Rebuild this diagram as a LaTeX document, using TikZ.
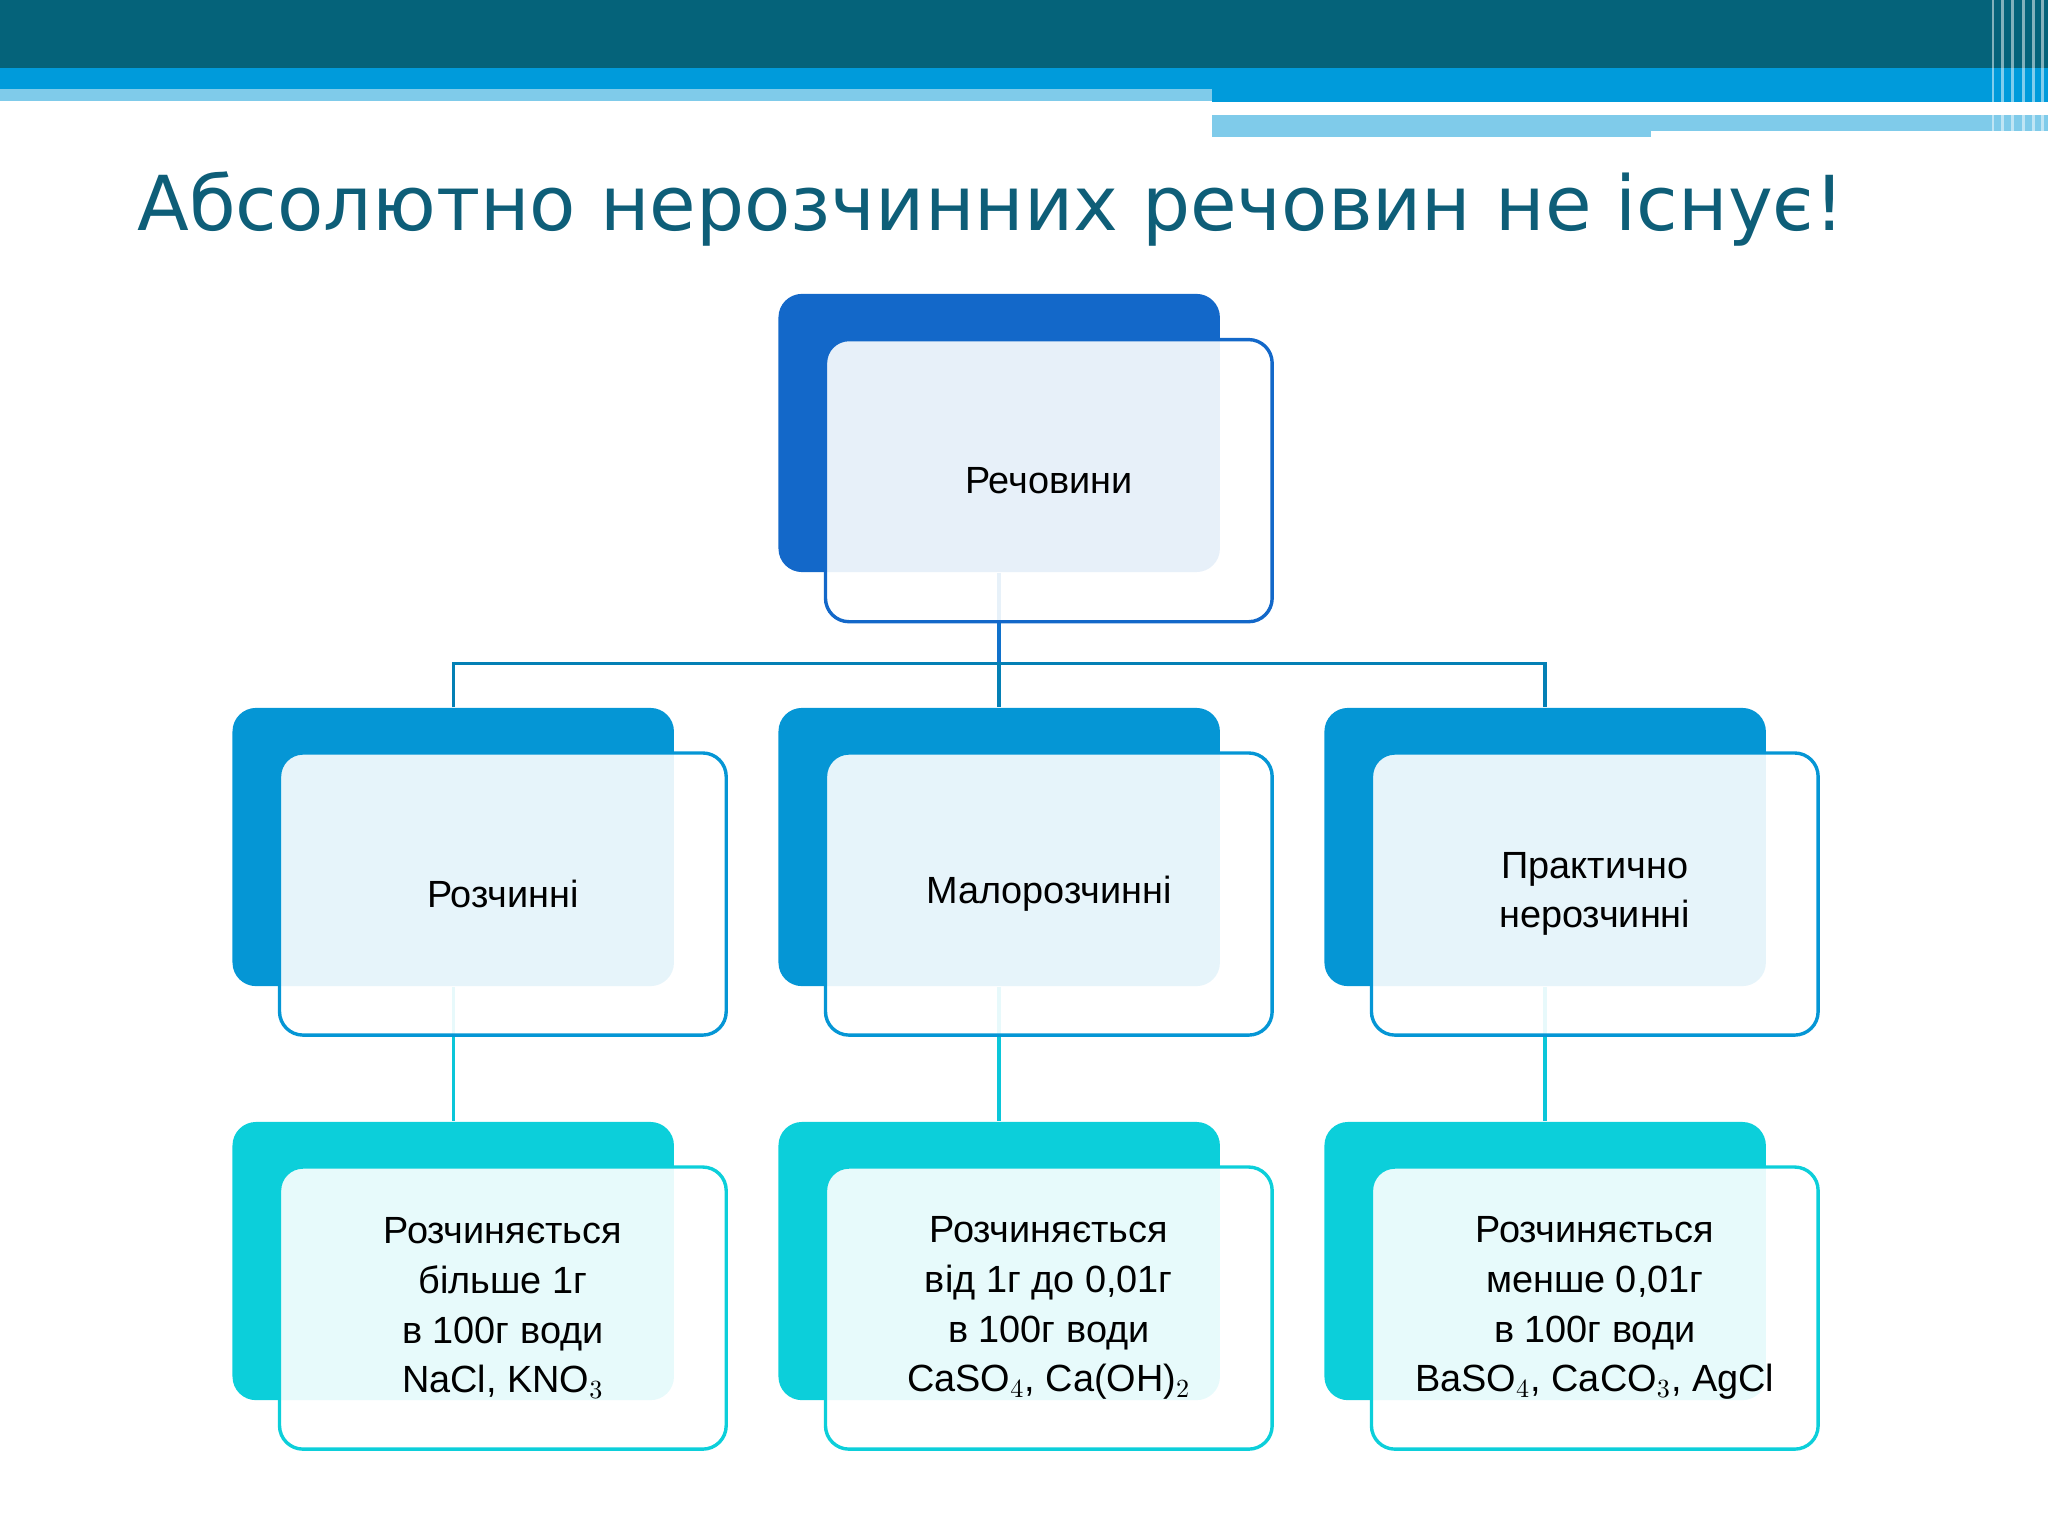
\documentclass[tikz,border=0pt]{standalone}
\usepackage{fontspec}
\setmainfont{Liberation Sans}
\newfontfamily\titlefont{DejaVu Sans}
\definecolor{hdark}{HTML}{05637A}
\definecolor{hblue}{HTML}{009BDB}
\definecolor{hlight}{HTML}{7FCBEA}
\definecolor{topc}{HTML}{1368C9}
\definecolor{midc}{HTML}{0596D5}
\definecolor{botc}{HTML}{0CCFDA}
\definecolor{titc}{HTML}{0E5E78}
\begin{document}
\begin{tikzpicture}[x=0.5pt,y=-0.5pt,
  back/.style={rounded corners=9pt,minimum width=169pt,minimum height=106.5pt,inner sep=0pt},
  front/.style={rounded corners=9pt,minimum width=171pt,minimum height=108pt,inner sep=0pt,fill=white,fill opacity=0.9,text opacity=1,line width=1.3pt,align=center,font=\fontsize{14.5}{19}\selectfont},
  conn/.style={line width=1.3pt}]
\useasboundingbox (0,0) rectangle (1568,1176);
% header
\fill[hdark] (0,0) rectangle (1568,52);
\fill[hblue] (0,52) rectangle (928,68);
\fill[hlight] (0,68) rectangle (928,77);
\fill[hblue] (928,52) rectangle (1568,78);
\fill[hlight] (928,88) rectangle (1568,105);
\fill[white] (1264,100) rectangle (1568,106);
\foreach \x in {1525,1532,1540,1548,1556,1563} \fill[white,opacity=0.5] (\x,0) rectangle (\x+2,106);
% title
\node[anchor=west,text=titc,font=\titlefont\fontsize{29}{34}\selectfont] (title) at (98,160) {Абсолютно нерозчинних речовин не існує!};
% connectors
\coordinate (j) at (765,508);
\node[back,fill=topc] (tb) at (765,331.5) {};
\node[back,fill=midc] (m1) at (347,648.5) {};
\node[back,fill=midc] (m2) at (765,648.5) {};
\node[back,fill=midc] (m3) at (1183,648.5) {};
\node[back,fill=botc] (b1) at (347,965.5) {};
\node[back,fill=botc] (b2) at (765,965.5) {};
\node[back,fill=botc] (b3) at (1183,965.5) {};
\draw[conn,topc!80!midc] (tb.south) -- (j);
\draw[conn,midc!85!black] (m1.north) |- (j) -| (m3.north);
\draw[conn,midc!85!black] (j) -- (m2.north);
\draw[conn,botc!85!midc] (m1.south) -- (b1.north);
\draw[conn,botc!85!midc] (m2.south) -- (b2.north);
\draw[conn,botc!85!midc] (m3.south) -- (b3.north);
% fronts
\node[front,draw=topc] (tf) at (803,368) {Речовини};
\node[front,draw=midc] (f1) at (385,684.5) {Розчинні};
\node[front,draw=midc] (f2) at (803,684.5) {Малорозчинні};
\node[front,draw=midc] (f3) at (1221,684.5) {Практично\\нерозчинні};
\node[front,draw=botc] (g1) at (385,1001.5) {Розчиняється\\більше 1г\\в 100г води\\NaCl, KNO$_3$};
\node[front,draw=botc] (g2) at (803,1001.5) {Розчиняється\\від 1г до 0,01г\\в 100г води\\CaSO$_4$, Ca(OH)$_2$};
\node[front,draw=botc] (g3) at (1221,1001.5) {Розчиняється\\менше 0,01г\\в 100г води\\BaSO$_4$, CaCO$_3$, AgCl};
\end{tikzpicture}
\end{document}
